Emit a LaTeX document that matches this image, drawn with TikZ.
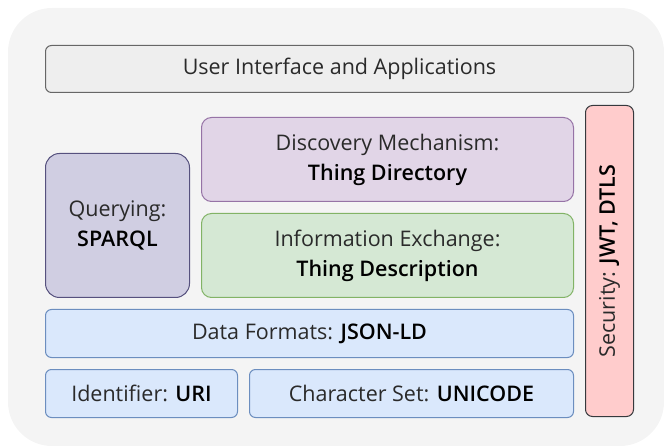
\documentclass[tikz,border=0pt]{standalone}
\usepackage{fontspec}
\setmainfont{Open Sans}[BoldFont={Open Sans Semibold}]
\usetikzlibrary{positioning}

\definecolor{bgfill}{HTML}{F4F4F4}
\definecolor{uifill}{HTML}{EEEEEE}
\definecolor{uidraw}{HTML}{666666}
\definecolor{secfill}{HTML}{FFCCCC}
\definecolor{secdraw}{HTML}{36393D}
\definecolor{qryfill}{HTML}{D0CEE2}
\definecolor{qrydraw}{HTML}{56517E}
\definecolor{disfill}{HTML}{E1D5E7}
\definecolor{disdraw}{HTML}{9673A6}
\definecolor{inffill}{HTML}{D5E8D4}
\definecolor{infdraw}{HTML}{82B366}
\definecolor{datfill}{HTML}{DAE8FC}
\definecolor{datdraw}{HTML}{6C8EBF}
\definecolor{txt}{HTML}{2A2A2A}

\tikzset{
  layer/.style={draw, line width=1pt, rounded corners=6pt, anchor=north west,
    inner sep=0pt, align=center, text=txt,
    font=\fontsize{21.5}{30}\selectfont},
  uibox/.style={layer, fill=uifill, draw=uidraw},
  secbox/.style={layer, fill=secfill, draw=secdraw, rounded corners=7pt},
  qrybox/.style={layer, fill=qryfill, draw=qrydraw, rounded corners=14pt},
  disbox/.style={layer, fill=disfill, draw=disdraw, rounded corners=10pt},
  infbox/.style={layer, fill=inffill, draw=infdraw, rounded corners=10pt},
  datbox/.style={layer, fill=datfill, draw=datdraw}
}
\newcommand{\keyw}[1]{\textcolor{black}{\textbf{#1}}}

\begin{document}
\begin{tikzpicture}[x=1pt,y=-1pt]
\useasboundingbox (0,0) rectangle (664,446);
% background
\fill[bgfill, rounded corners=44pt] (8,8) rectangle (664,446);

% top layer
\node[uibox, minimum width=588pt, minimum height=47pt] (ui) at (45,45)
  {User Interface and Applications};

% security column
\node[secbox, minimum width=48pt, minimum height=311pt] (sec) at (585,105) {};
\node[rotate=90, text=txt, font=\fontsize{21.5}{30}\selectfont] (seclabel) at (sec.center)
  {Security: \keyw{JWT, DTLS}};

% middle layers
\node[qrybox, minimum width=144pt, minimum height=144pt] (qry) at (45,153)
  {Querying:\\\keyw{SPARQL}};
\node[disbox, minimum width=372pt, minimum height=84pt] (dis) at (201,117)
  {Discovery Mechanism:\\\keyw{Thing Directory}};
\node[infbox, minimum width=372pt, minimum height=84pt] (inf) at (201,213)
  {Information Exchange:\\\keyw{Thing Description}};

% bottom layers
\node[datbox, minimum width=528pt, minimum height=48pt] (dat) at (45,309)
  {Data Formats: \keyw{JSON-LD}};
\node[datbox, minimum width=192pt, minimum height=48pt] (uri) at (45,369)
  {Identifier: \keyw{URI}};
\node[datbox, minimum width=324pt, minimum height=48pt] (chr) at (249,369)
  {Character Set: \keyw{UNICODE}};
\end{tikzpicture}
\end{document}
